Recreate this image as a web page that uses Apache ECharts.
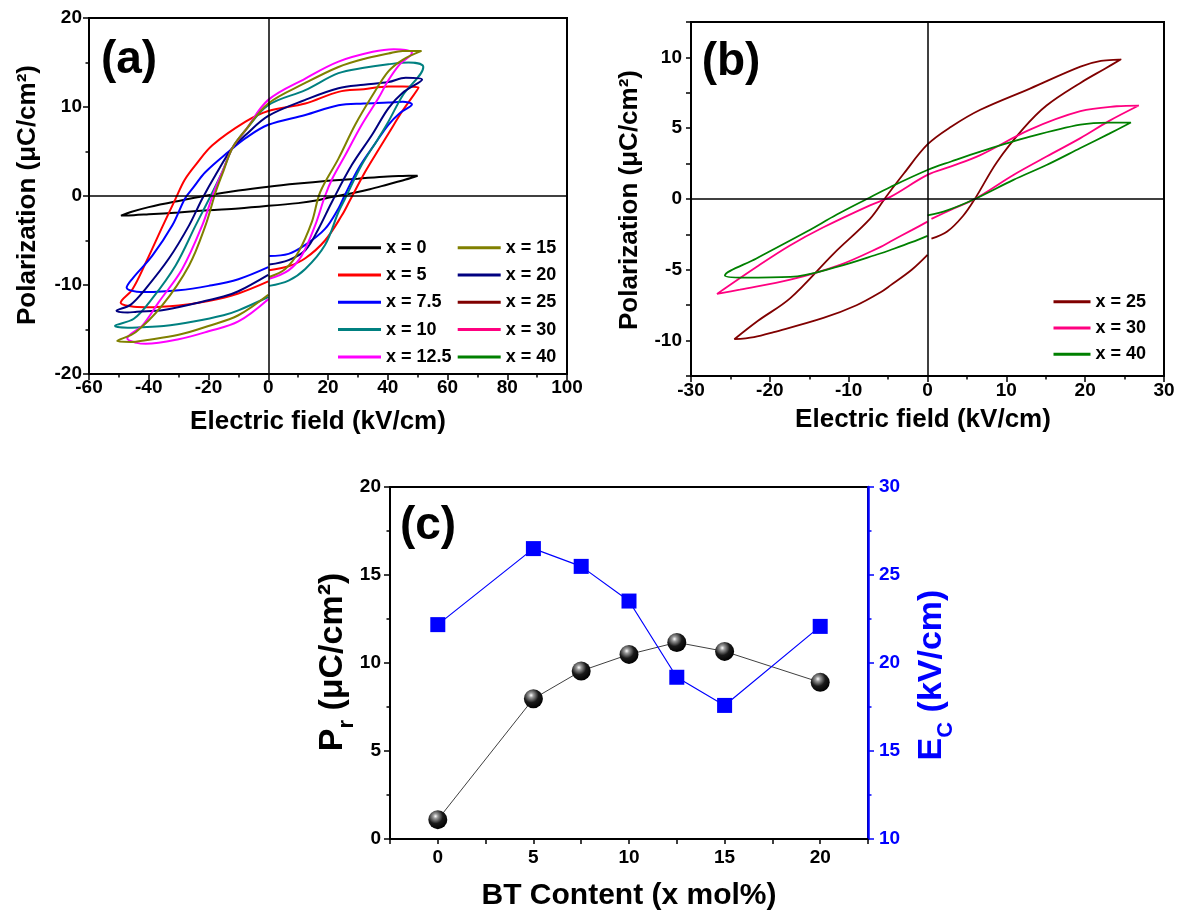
<!DOCTYPE html>
<html><head><meta charset="utf-8">
<script src="https://cdn.jsdelivr.net/npm/echarts@6/dist/echarts.min.js"></script>
<style>html,body{margin:0;padding:0;background:#fff}#c{width:1187px;height:922px}</style>
</head><body><div id="c"></div>
<script>
// ---------- Panel (a): P-E loops [E (kV/cm), P (uC/cm2)] in measurement order ----------
const loopX0 = [[0,-1.1],[10,-0.8],[17,-0.45],[20,-0.2],[28,0.3],[34,0.75],[40,1.3],[46,1.85],[50,2.28],
  [45,2.25],[40,2.2],[30,1.95],[20,1.7],[10,1.4],[0,1.05],[-10,0.62],[-20,0.08],[-30,-0.55],[-40,-1.25],[-46,-1.8],[-49.3,-2.2],
  [-45,-2.15],[-40,-2.05],[-30,-1.85],[-20,-1.6],[-10,-1.4],[0,-1.1]];
const loopX5 = [[0.3,-8.35],[6.8,-7.9],[12.4,-7.0],[19,-5.0],[24.6,-2.2],[27.4,-0.45],[32.4,2.7],[36.9,5.2],[40.2,7.0],[45,9.6],[50.3,12.2],
  [45,12.3],[40.2,12.3],[32,12.0],[23.5,11.7],[12.4,10.4],[0,9.55],[-7.6,8.35],[-18.7,5.7],[-24.3,3.5],[-28,1.8],[-31,-0.3],[-35.5,-3.5],[-41,-7.5],[-45.5,-10.5],[-49.4,-12.0],
  [-46,-12.4],[-41,-12.5],[-30,-12.3],[-20,-11.8],[-10,-10.95],[0,-9.6]];
const loopX7p5 = [[0.3,-6.75],[6.8,-6.5],[12.4,-5.5],[19,-3.7],[23.5,-1.4],[25.5,0],[30.2,3.1],[35.8,5.9],[40.2,8.0],[44,9.3],[48.1,10.3],
  [45,10.6],[40.2,10.5],[32,10.4],[23.5,10.2],[12.4,9.1],[0,8.0],[-7.6,6.5],[-13.2,5.0],[-21,2.7],[-25,1.0],[-27.9,-0.3],[-32.1,-3.3],[-38.8,-6.7],[-45.5,-9.3],[-47.4,-10.3],
  [-44,-10.75],[-41,-10.8],[-30,-10.6],[-20,-10.1],[-10,-9.35],[0,-8.0]];
const loopX10 = [[0.3,-10.1],[6.8,-9.5],[12.4,-8.2],[19,-5.5],[23.5,-1.8],[25.5,-0.45],[31.3,3.5],[36.9,6.5],[40.2,8.35],[45,11.3],[51.9,14.5],
  [47,15.0],[40.2,14.8],[32,14.4],[23.5,13.8],[12.4,11.9],[0,10.2],[-7.6,7.4],[-12,5.4],[-15.4,2.7],[-19.3,0],[-24.3,-3.3],[-31,-7.8],[-38.8,-11.5],[-45,-13.8],[-51.3,-14.6],
  [-47,-14.8],[-43,-14.75],[-35,-14.6],[-25,-14.1],[-15,-13.4],[-10,-12.85],[0,-11.35]];
const loopX12p5 = [[0.3,-9.3],[6.8,-8.35],[11.2,-6.7],[15.7,-3.3],[19,0],[21.5,2.0],[25.8,4.6],[31.3,8.0],[36.9,11.0],[40.2,13.0],[44,14.8],[48.1,16.1],
  [46,16.4],[42,16.5],[35,16.2],[23.5,15.1],[12.4,13.2],[0,10.8],[-7.6,7.4],[-12,5.4],[-15,3.0],[-18.2,0.45],[-22.1,-3.3],[-28.8,-8.2],[-36.6,-11.9],[-42,-14.5],[-47.2,-16.0],
  [-44,-16.5],[-41,-16.6],[-30,-16.1],[-20,-15.2],[-10,-14.1],[0,-11.6]];
const loopX15 = [[0.3,-9.1],[5.7,-8.2],[10.1,-6.3],[14.6,-2.9],[17.4,0.45],[23.5,4.2],[29.1,8.0],[34.7,11.2],[40.2,14.0],[45,15.3],[51.3,16.3],
  [45,16.3],[40.2,16.0],[32,15.4],[23.5,14.5],[12.4,12.7],[0,10.4],[-7.6,7.4],[-12,5.4],[-15,2.8],[-17.6,0.45],[-21,-3.3],[-26.5,-7.8],[-35.5,-12.3],[-44.4,-15.3],[-50.6,-16.3],
  [-46,-16.4],[-41,-16.2],[-30,-15.6],[-20,-14.6],[-10,-13.4],[0,-11.1]];
const loopX20 = [[0.3,-7.7],[6.8,-7.2],[12.4,-6.1],[16.8,-3.7],[21.3,-0.67],[28,3.5],[34.7,6.85],[40.2,9.85],[45,11.6],[51.5,13.1],
  [46,13.3],[40.2,12.8],[32,12.5],[23.5,12.1],[12.4,10.8],[0,9.0],[-7.6,6.85],[-12,5.4],[-17.6,2.4],[-22.1,-0.3],[-26.5,-3.3],[-33.2,-7.0],[-41,-10.4],[-46,-12.2],[-50.8,-12.9],
  [-47,-13.1],[-44,-13.0],[-35,-12.8],[-25,-12.1],[-15,-11.3],[-10,-10.7],[0,-8.85]];

// ---------- Panel (b) ----------
const loopX25 = [[0.5,-2.8],[2.5,-2.3],[4.5,-1.2],[6,0],[8.8,2.6],[12.2,5.0],[15.1,6.6],[19.4,8.2],[22.5,9.2],[24.5,9.85],
  [22,9.75],[19.4,9.35],[13,7.8],[6.7,6.3],[3,5.1],[0,3.85],[-3,1.8],[-5.2,0.2],[-7.3,-1.4],[-11.9,-3.85],[-17.4,-7.0],[-21.5,-8.6],[-24.5,-9.9],
  [-22,-9.75],[-19.5,-9.4],[-13.2,-8.4],[-9,-7.5],[-6,-6.6],[-4.7,-6.1],[-2,-5.0],[0,-3.95]];
const loopX30 = [[0.5,-1.4],[3,-0.75],[6,0],[10.9,1.7],[15.1,3.0],[19.4,4.3],[23,5.5],[26.8,6.6],
  [24,6.55],[19.4,6.2],[13,4.9],[6.7,3.1],[3,2.3],[0,1.7],[-4.7,0.15],[-7.3,-0.45],[-13.2,-2.0],[-17.5,-3.3],[-21.7,-4.8],[-26.7,-6.7],
  [-23.8,-6.4],[-17.4,-5.7],[-11.1,-4.65],[-6,-3.4],[-4.7,-3.0],[-2,-2.2],[0,-1.6]];
const loopX40 = [[0,-1.15],[2.5,-0.8],[6,0],[10.9,1.35],[15.1,2.4],[19.4,3.6],[23,4.6],[25.8,5.4],
  [23,5.4],[19.4,5.25],[13,4.4],[6.7,3.35],[3,2.65],[0,2.05],[-4.7,0.85],[-7.7,0],[-11.5,-1.1],[-15.3,-2.3],[-21.7,-4.2],[-25.7,-5.4],
  [-23.3,-5.55],[-17.4,-5.5],[-11.5,-4.8],[-6,-3.85],[-4.7,-3.6],[-2,-3.05],[0,-2.6]];

// ---------- Panel (c) ----------
const btContent = [0, 5, 7.5, 10, 12.5, 15, 20];
const prValues  = [1.1, 7.97, 9.55, 10.49, 11.17, 10.66, 8.9];
const ecValues  = [22.18, 26.5, 25.49, 23.52, 19.19, 17.59, 22.08];

const legendColA = ['x = 0','x = 5','x = 7.5','x = 10','x = 12.5'];
const legendColB = ['x = 15','x = 20','x = 25','x = 30','x = 40'];
const legendPanelB = ['x = 25','x = 30','x = 40'];

const FONT = '"Liberation Sans", Arial, sans-serif';
const chart = echarts.init(document.getElementById('c'), null, {renderer:'canvas'});

function loopSeries(name, data, color, xi, width){
  return {type:'line', name, data, xAxisIndex:xi, yAxisIndex:xi, symbol:'none', showSymbol:false,
    smooth:0.35, lineStyle:{color, width}, itemStyle:{color}, emphasis:{disabled:true}, z:3};
}
function axisBase(extra){
  return Object.assign({
    axisLine:{show:true, onZero:false, lineStyle:{color:'#000', width:2}},
    axisTick:{show:true, inside:false, length:6, lineStyle:{color:'#000', width:1.5}},
    minorTick:{show:true, splitNumber:2, length:3.5, lineStyle:{color:'#000', width:1.5}},
    splitLine:{show:false}, minorSplitLine:{show:false},
    axisLabel:{color:'#000', fontFamily:FONT, fontWeight:'bold', fontSize:19}
  }, extra);
}
const LBL = {color:'#000', fontFamily:FONT, fontWeight:'bold', fontSize:19};
const fmt5 = v => (Math.abs(v % 5) < 1e-6 ? String(v) : '');
const zeroLines = {silent:true, symbol:['none','none'], label:{show:false}, animation:false,
  lineStyle:{color:'#000', width:1.5, type:'solid'}, emphasis:{disabled:true},
  data:[{xAxis:0},{yAxis:0}]};

const s0 = loopSeries('x = 0', loopX0, '#000000', 0, 2); s0.markLine = zeroLines;
const s25 = loopSeries('x = 25', loopX25, '#800000', 1, 1.8); s25.markLine = zeroLines;

const sphere = {type:'radial', x:0.38, y:0.32, r:0.7, colorStops:[
  {offset:0, color:'#ffffff'},{offset:0.18, color:'#9a9a9a'},{offset:0.55, color:'#1a1a1a'},{offset:1, color:'#000000'}]};

const legendText = {color:'#000', fontFamily:FONT, fontWeight:'bold', fontSize:18, lineHeight:18};

const option = {
  animation:false,
  backgroundColor:'#ffffff',
  grid:[
    {left:89, top:18, width:478, height:356, show:true, borderColor:'#000', borderWidth:2, backgroundColor:'transparent'},
    {left:691, top:22, width:473, height:354, show:true, borderColor:'#000', borderWidth:2, backgroundColor:'transparent'},
    {left:390, top:487, width:478, height:352, show:true, borderColor:'#000', borderWidth:2, backgroundColor:'transparent'}
  ],
  xAxis:[
    axisBase({type:'value', gridIndex:0, min:-60, max:100, interval:20, position:'bottom',
      axisLabel:Object.assign({margin:4}, LBL)}),
    axisBase({type:'value', gridIndex:1, min:-30, max:30, interval:10, position:'bottom',
      axisLabel:Object.assign({margin:5}, LBL)}),
    axisBase({type:'value', gridIndex:2, min:-2.5, max:22.5, interval:2.5, position:'bottom',
      minorTick:{show:false},
      axisTick:{show:true, length:5, lineStyle:{color:'#000', width:1.5}},
      axisLabel:Object.assign({margin:9, formatter:fmt5}, LBL)})
  ],
  yAxis:[
    axisBase({type:'value', gridIndex:0, min:-20, max:20, interval:10, position:'left',
      axisLabel:Object.assign({margin:7}, LBL)}),
    axisBase({type:'value', gridIndex:1, min:-12.5, max:12.5, interval:2.5, position:'left',
      minorTick:{show:false},
      axisTick:{show:true, length:5, lineStyle:{color:'#000', width:1.5}},
      axisLabel:Object.assign({margin:9, formatter:fmt5}, LBL)}),
    axisBase({type:'value', gridIndex:2, min:0, max:20, interval:5, position:'left',
      axisLabel:Object.assign({margin:9}, LBL)}),
    axisBase({type:'value', gridIndex:2, min:10, max:30, interval:5, position:'right',
      axisLine:{show:true, onZero:false, lineStyle:{color:'#0000ff', width:2.5}},
      axisTick:{show:true, length:6, lineStyle:{color:'#0000ff', width:1.5}},
      minorTick:{show:true, splitNumber:2, length:3.5, lineStyle:{color:'#0000ff', width:1.5}},
      axisLabel:{color:'#0000ff', fontFamily:FONT, fontWeight:'bold', fontSize:19, margin:11}})
  ],
  legend:[
    {data:legendColA, orient:'vertical', left:338, top:238.7, padding:0, icon:'rect', itemWidth:43, itemHeight:3, itemGap:9.3,
      textStyle:legendText, selectedMode:false},
    {data:legendColB, orient:'vertical', left:457.7, top:238.7, padding:0, icon:'rect', itemWidth:43, itemHeight:3, itemGap:9.3,
      textStyle:legendText, selectedMode:false},
    {data:legendPanelB, orient:'vertical', left:1053.5, top:292.7, padding:0, icon:'rect', itemWidth:37, itemHeight:3, itemGap:8.3,
      textStyle:legendText, selectedMode:false}
  ],
  series:[
    s0,
    loopSeries('x = 5', loopX5, '#ff0000', 0, 2),
    loopSeries('x = 7.5', loopX7p5, '#0000ff', 0, 2),
    loopSeries('x = 10', loopX10, '#008080', 0, 2),
    loopSeries('x = 20', loopX20, '#000080', 0, 2),
    loopSeries('x = 12.5', loopX12p5, '#ff00ff', 0, 2),
    loopSeries('x = 15', loopX15, '#808000', 0, 2),
    s25,
    loopSeries('x = 30', loopX30, '#ff0080', 1, 1.8),
    loopSeries('x = 40', loopX40, '#008000', 1, 1.8),
    {type:'line', name:'Pr', xAxisIndex:2, yAxisIndex:2, data:btContent.map((x,i)=>[x, prValues[i]]),
      symbol:'circle', symbolSize:19, lineStyle:{color:'#404040', width:1}, itemStyle:{color:sphere}, z:4, emphasis:{disabled:true}},
    {type:'line', name:'Ec', xAxisIndex:2, yAxisIndex:3, data:btContent.map((x,i)=>[x, ecValues[i]]),
      symbol:'rect', symbolSize:15, lineStyle:{color:'#0000ff', width:1.2}, itemStyle:{color:'#0000ff'}, z:4, emphasis:{disabled:true}}
  ],
  graphic:[
    {type:'text', x:129, y:60, style:{text:'(a)', font:'bold 46px '+FONT, fill:'#000', align:'center', verticalAlign:'middle', textAlign:'center', textVerticalAlign:'middle'}},
    {type:'text', x:731, y:62, style:{text:'(b)', font:'bold 46px '+FONT, fill:'#000', align:'center', verticalAlign:'middle', textAlign:'center', textVerticalAlign:'middle'}},
    {type:'text', x:428, y:526, style:{text:'(c)', font:'bold 46px '+FONT, fill:'#000', align:'center', verticalAlign:'middle', textAlign:'center', textVerticalAlign:'middle'}},
    {type:'text', x:28, y:195, rotation:Math.PI/2, style:{text:'Polarization (μC/cm²)', font:'bold 26px '+FONT, fill:'#000', align:'center', verticalAlign:'middle', textAlign:'center', textVerticalAlign:'middle'}},
    {type:'text', x:318, y:422, style:{text:'Electric field (kV/cm)', font:'bold 26px '+FONT, fill:'#000', align:'center', verticalAlign:'middle', textAlign:'center', textVerticalAlign:'middle'}},
    {type:'text', x:630, y:200, rotation:Math.PI/2, style:{text:'Polarization (μC/cm²)', font:'bold 26px '+FONT, fill:'#000', align:'center', verticalAlign:'middle', textAlign:'center', textVerticalAlign:'middle'}},
    {type:'text', x:923, y:420, style:{text:'Electric field (kV/cm)', font:'bold 26px '+FONT, fill:'#000', align:'center', verticalAlign:'middle', textAlign:'center', textVerticalAlign:'middle'}},
    {type:'text', x:629, y:896, style:{text:'BT Content (x mol%)', font:'bold 30px '+FONT, fill:'#000', align:'center', verticalAlign:'middle', textAlign:'center', textVerticalAlign:'middle'}},
    {type:'text', x:333, y:662, rotation:Math.PI/2, style:{text:'{a|P}{s|r}{a| (μC/cm²)}', fill:'#000', align:'center', verticalAlign:'middle', textAlign:'center', textVerticalAlign:'middle',
      font:'bold 34px '+FONT,
      rich:{a:{fontSize:34, fontWeight:'bold', fontFamily:FONT, fill:'#000', lineHeight:50},
            s:{fontSize:22, fontWeight:'bold', fontFamily:FONT, fill:'#000', lineHeight:22, verticalAlign:'bottom'}}}},
    {type:'text', x:932, y:675, rotation:Math.PI/2, style:{text:'{a|E}{s|C}{a| (kV/cm)}', fill:'#0000ff', align:'center', verticalAlign:'middle', textAlign:'center', textVerticalAlign:'middle',
      font:'bold 34px '+FONT,
      rich:{a:{fontSize:34, fontWeight:'bold', fontFamily:FONT, fill:'#0000ff', lineHeight:50},
            s:{fontSize:22, fontWeight:'bold', fontFamily:FONT, fill:'#0000ff', lineHeight:22, verticalAlign:'bottom'}}}}
  ]
};
chart.setOption(option);
</script></body></html>
